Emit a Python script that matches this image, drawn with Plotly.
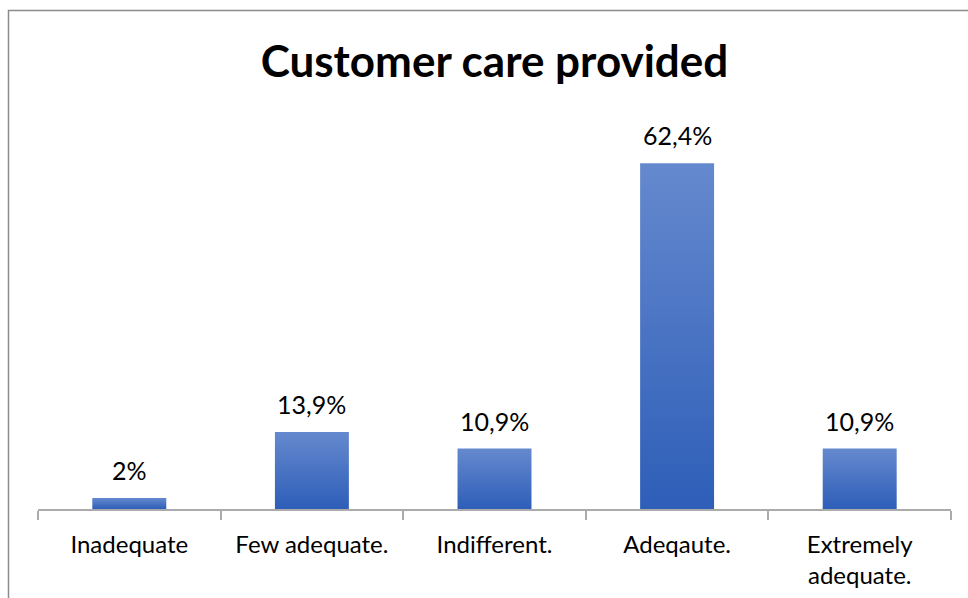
import plotly.graph_objects as go

categories = ["Inadequate", "Few adequate.", "Indifferent.", "Adeqaute.", "Extremely<br>adequate."]
percentages = [2, 13.9, 10.9, 62.4, 10.9]

BAR_WIDTH = 0.405
TOP_COLOR = "rgb(101,137,206)"
BOTTOM_COLOR = "rgb(46,94,184)"
FONT = "Lato, 'Open Sans', sans-serif"

fig = go.Figure()

positions = list(range(len(categories)))

# each bar is a filled polygon so it can carry its own vertical gradient
for pos, val in zip(positions, percentages):
    left, right = pos - BAR_WIDTH / 2, pos + BAR_WIDTH / 2
    fig.add_trace(go.Scatter(
        x=[left, right, right, left, left],
        y=[0, 0, val, val, 0],
        mode="lines",
        line=dict(width=0),
        fill="toself",
        fillgradient=dict(
            type="vertical",
            colorscale=[[0, BOTTOM_COLOR], [1, TOP_COLOR]],
        ),
        hoverinfo="skip",
        showlegend=False,
    ))


def fmt(v):
    return f"{v:g}".replace(".", ",") + "%"


for pos, val in zip(positions, percentages):
    fig.add_annotation(
        x=pos, y=val, text=fmt(val),
        showarrow=False, yanchor="bottom", yshift=11,
        font=dict(family=FONT, size=25, color="#000000"),
    )

fig.update_layout(
    width=968, height=598,
    margin=dict(l=38, r=17, t=121, b=89, autoexpand=False),
    paper_bgcolor="white",
    plot_bgcolor="white",
    title=dict(
        text="<b>Customer care provided</b>",
        x=0.5, xref="paper", xanchor="center",
        y=1 - 62 / 598, yref="container", yanchor="middle",
        font=dict(family=FONT, size=44, color="#000000"),
    ),
    xaxis=dict(
        range=[-0.5, len(categories) - 0.5],
        tickmode="array", tickvals=positions, ticktext=categories,
        ticks="", showgrid=False, zeroline=False,
        showline=True, linecolor="#ababab", linewidth=1.5,
        tickfont=dict(family=FONT, size=24, color="#000000"),
        ticklabelstandoff=13,
        automargin=False,
        minor=dict(tick0=-0.5, dtick=1, ticks="outside", ticklen=9,
                   tickcolor="#ababab", tickwidth=1.5, showgrid=False),
        fixedrange=True,
    ),
    yaxis=dict(
        range=[0, 70], visible=False, showgrid=False, zeroline=False,
        fixedrange=True, automargin=False,
    ),
    shapes=[dict(
        type="rect", xref="paper", yref="paper",
        x0=(8.5 - 38) / 913, x1=1.2,
        y0=-0.5, y1=(509 - 10.5) / 388,
        line=dict(color="#8c8c8c", width=1.5),
        fillcolor="rgba(0,0,0,0)", layer="above",
    )],
)

fig.write_html("out.html")
